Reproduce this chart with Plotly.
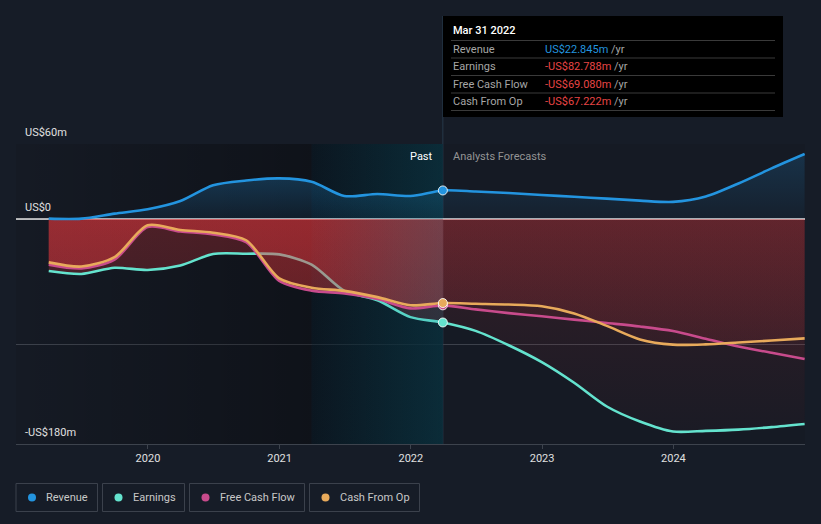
import plotly.graph_objects as go

# ---------------- data ----------------
past_dates = ["2019-03-31", "2019-06-30", "2019-09-30", "2019-12-31", "2020-03-31", "2020-06-30",
              "2020-09-30", "2020-12-31", "2021-03-31", "2021-06-30", "2021-09-30", "2021-12-31",
              "2022-03-31"]
fcst_dates = ["2022-03-31", "2022-06-30", "2022-09-30", "2022-12-31", "2023-03-31", "2023-06-30",
              "2023-09-30", "2023-12-31", "2024-03-31", "2024-06-30", "2024-09-30", "2024-12-31"]

revenue_past = [0.3, 0.3, 4.3, 7.8, 14.4, 27.0, 30.8, 32.5, 29.8, 18.4, 20.0, 18.4, 22.845]
revenue_fcst = [22.845, 22.0, 20.8, 19.2, 17.8, 16.3, 14.7, 13.7, 18.0, 28.4, 40.5, 52.0]
earnings_past = [-41.6, -44.0, -39.0, -40.8, -37.2, -28.0, -27.8, -28.3, -36.5, -57.5, -65.0, -78.5, -82.788]
earnings_fcst = [-82.788, -89.5, -101.0, -114.5, -131.0, -150.0, -162.0, -170.0, -169.5, -168.5, -166.5, -164.0]
fcf_past = [-36.5, -39.5, -32.5, -6.5, -10.0, -12.3, -18.5, -49.5, -57.3, -59.5, -64.0, -71.5, -69.08]
fcf_fcst = [-69.08, -72.3, -75.3, -77.8, -80.5, -83.2, -86.0, -89.6, -95.8, -102.0, -107.0, -112.0]
cfo_past = [-34.7, -38.0, -30.5, -5.0, -8.8, -11.0, -17.0, -47.5, -55.0, -57.5, -62.5, -69.0, -67.222]
cfo_fcst = [-67.222, -67.8, -68.4, -69.8, -75.5, -85.5, -96.3, -100.5, -100.3, -98.8, -97.2, -95.5]

series_names = ["Revenue", "Earnings", "Free Cash Flow", "Cash From Op"]
series_colors = ["#2394df", "#64e3ce", "#c84b8c", "#e8aa5b"]

tick_dates = ["2020-01-01", "2021-01-01", "2022-01-01", "2023-01-01", "2024-01-01"]
tick_text = ["2020", "2021", "2022", "2023", "2024"]
y_ticks = [60, 0, -100, -180]
y_labels = ["US$60m", "US$0", "", "-US$180m"]

tooltip_title = "Mar 31 2022"
tooltip_labels = ["Revenue", "Earnings", "Free Cash Flow", "Cash From Op"]
tooltip_values = ["US$22.845m", "-US$82.788m", "-US$69.080m", "-US$67.222m"]
tooltip_value_colors = ["#2394df", "#e84545", "#e84545", "#e84545"]

X0, X1 = "2018-12-30", "2025-01-01"
Y0, Y1 = -180, 60
HIGHLIGHT_START = "2021-03-31"
NOW = "2022-03-31"
FONT = "Roboto"
PAPER_BG = "#161c27"

W, H = 821, 524
ML, MR, MT, MB = 16, 16, 144, 80
PW, PH = W - ML - MR, H - MT - MB


def px_x(px):
    return (px - ML) / PW


def px_y(py):
    return (H - MB - py) / PH


fig = go.Figure()


def band(x0, x1, scale):
    fig.add_trace(go.Scatter(x=[x0, x1, x1, x0, x0], y=[Y0, Y0, Y1, Y1, Y0], mode="lines",
                             line=dict(width=0), fill="toself",
                             fillgradient=dict(type="horizontal", colorscale=scale),
                             hoverinfo="skip", showlegend=False))


# background bands (under everything)
band(X0, HIGHLIGHT_START, [[0, "rgba(0,0,0,0.0)"], [1, "rgba(0,0,0,0.3)"]])
band(HIGHLIGHT_START, NOW, [[0, "rgba(0,18,28,0.45)"], [1, "rgba(0,8,18,0.8)"]])

# zero line
fig.add_trace(go.Scatter(x=[X0, X1], y=[0, 0], mode="lines",
                         line=dict(color="rgba(238,238,238,0.95)", width=1.5),
                         hoverinfo="skip", showlegend=False))

SPL = dict(shape="spline", smoothing=0.8)


def area(x, y, scale, start, stop):
    fig.add_trace(go.Scatter(x=x, y=y, mode="lines", line=dict(width=0, **SPL), fill="tozeroy",
                             fillgradient=dict(type="vertical", colorscale=scale, start=start, stop=stop),
                             hoverinfo="skip", showlegend=False))


def line(x, y, color):
    fig.add_trace(go.Scatter(x=x, y=y, mode="lines", line=dict(color=color, width=2.6, **SPL),
                             hoverinfo="skip", showlegend=False))


all_dates = past_dates + fcst_dates[1:]
rev_all = revenue_past + revenue_fcst[1:]
earn_all = earnings_past + earnings_fcst[1:]
fcf_all = fcf_past + fcf_fcst[1:]
cfo_all = cfo_past + cfo_fcst[1:]

RED_PAST = [[0, "rgba(230,55,60,0.12)"], [1, "rgba(230,55,60,0.28)"]]
RED_FCST = [[0, "rgba(230,55,60,0.02)"], [1, "rgba(230,55,60,0.14)"]]

area(past_dates, revenue_past, [[0, "rgba(35,148,223,0.08)"], [1, "rgba(35,148,223,0.40)"]], 0, 60)
area(fcst_dates, revenue_fcst, [[0, "rgba(35,148,223,0.05)"], [1, "rgba(35,148,223,0.22)"]], 0, 60)

area(past_dates, earnings_past, RED_PAST, -180, 0)
area(fcst_dates, earnings_fcst, RED_FCST, -180, 0)
line(all_dates, earn_all, series_colors[1])

area(past_dates, fcf_past, RED_PAST, -180, 0)
area(fcst_dates, fcf_fcst, RED_FCST, -180, 0)
area(past_dates, cfo_past, RED_PAST, -180, 0)
area(fcst_dates, cfo_fcst, RED_FCST, -180, 0)

# light teal wash over the last-year highlight (above the areas, below the lines)
band(HIGHLIGHT_START, NOW, [[0, "rgba(30,140,160,0.0)"], [1, "rgba(30,140,160,0.25)"]])

line(all_dates, fcf_all, series_colors[2])
line(all_dates, cfo_all, series_colors[3])
line(all_dates, rev_all, series_colors[0])

for vals, col in [(earnings_past, series_colors[1]), (fcf_past, series_colors[2]),
                  (cfo_past, series_colors[3]), (revenue_past, series_colors[0])]:
    fig.add_trace(go.Scatter(x=[past_dates[-1]], y=[vals[-1]], mode="markers",
                             marker=dict(size=9, color=col, line=dict(color="rgba(255,255,255,0.85)", width=1)),
                             hoverinfo="skip", showlegend=False))

shapes = []
annotations = []

shapes.append(dict(type="line", xref="x", yref="paper", x0=NOW, x1=NOW, y0=0, y1=px_y(16),
                   line=dict(color="#27394a", width=1), layer="below"))

for v, t in zip(y_ticks, y_labels):
    if t:
        annotations.append(dict(xref="paper", x=0, xanchor="left", xshift=7, yref="y", y=v,
                                yanchor="middle", yshift=12, text=t, showarrow=False,
                                font=dict(family=FONT, size=11, color="#e0e0e0")))

annotations.append(dict(xref="x", x=NOW, xanchor="right", xshift=-8, yref="paper", y=px_y(156),
                        yanchor="middle", text="Past", showarrow=False,
                        font=dict(family=FONT, size=11, color="#ffffff")))
annotations.append(dict(xref="x", x=NOW, xanchor="left", xshift=8, yref="paper", y=px_y(156),
                        yanchor="middle", text="Analysts Forecasts", showarrow=False,
                        font=dict(family=FONT, size=11, color="#949494")))

shapes.append(dict(type="rect", xref="paper", yref="paper", x0=px_x(443), x1=px_x(783),
                   y0=px_y(117), y1=px_y(16), fillcolor="#000000", line=dict(width=0), layer="above"))
annotations.append(dict(xref="paper", yref="paper", x=px_x(451), y=px_y(31), xanchor="left",
                        yanchor="middle", text=tooltip_title, showarrow=False,
                        font=dict(family=FONT, size=11, color="#ffffff", weight=500)))
row_y = [49, 66.5, 84, 101.5]
sep_y = [40.5, 58, 75.5, 93, 110.5]
for sy in sep_y:
    shapes.append(dict(type="line", xref="paper", yref="paper", x0=px_x(451), x1=px_x(775),
                       y0=px_y(sy), y1=px_y(sy), line=dict(color="#3a3a3a", width=1), layer="above"))
for ry, lab, val, vc in zip(row_y, tooltip_labels, tooltip_values, tooltip_value_colors):
    annotations.append(dict(xref="paper", yref="paper", x=px_x(451), y=px_y(ry), xanchor="left",
                            yanchor="middle", text=lab, showarrow=False,
                            font=dict(family=FONT, size=11, color="#a6a6a6")))
    annotations.append(dict(xref="paper", yref="paper", x=px_x(543), y=px_y(ry), xanchor="left",
                            yanchor="middle", text=f"<span style='color:{vc}'>{val}</span> /yr",
                            showarrow=False, font=dict(family=FONT, size=11, color="#a6a6a6")))

leg_boxes = [(16, 97.5), (102.5, 184.5), (189.5, 304.5), (309.5, 419.5)]
for (bx0, bx1), name, col in zip(leg_boxes, series_names, series_colors):
    shapes.append(dict(type="rect", xref="paper", yref="paper", x0=px_x(bx0), x1=px_x(bx1),
                       y0=px_y(511.5), y1=px_y(483.5), fillcolor="rgba(0,0,0,0)",
                       line=dict(color="#3b414c", width=1), layer="above"))
    shapes.append(dict(type="circle", xref="paper", yref="paper", xsizemode="pixel", ysizemode="pixel",
                       xanchor=px_x(bx0 + 16), yanchor=px_y(497.5), x0=-4, x1=4, y0=-4, y1=4,
                       fillcolor=col, line=dict(width=0), layer="above"))
    annotations.append(dict(xref="paper", yref="paper", x=px_x(bx0 + 28), y=px_y(497.5),
                            xanchor="left", yanchor="middle", text=name, showarrow=False,
                            font=dict(family=FONT, size=11, color="#c8c8c8")))

fig.update_layout(
    width=W, height=H,
    margin=dict(l=ML, r=MR, t=MT, b=MB, pad=0),
    paper_bgcolor=PAPER_BG,
    plot_bgcolor="#151a24",
    showlegend=False,
    hovermode=False,
    font=dict(family=FONT, size=11, color="#e0e0e0"),
    shapes=shapes,
    annotations=annotations,
    xaxis=dict(type="date", range=[X0, X1], tickvals=tick_dates, ticktext=tick_text,
               ticks="outside", ticklen=4, tickcolor="#3d434d", showline=True, linecolor="#3d434d",
               linewidth=1, showgrid=False, zeroline=False,
               tickfont=dict(family=FONT, size=11, color="#e0e0e0")),
    yaxis=dict(range=[Y0, Y1], tickvals=y_ticks, showticklabels=False, ticks="",
               showgrid=True, gridcolor="#3c414b", gridwidth=1, zeroline=False, showline=False),
)

fig.write_html(
    "out.html",
    config={"displayModeBar": False},
    post_script=f"document.body.style.margin='0';document.body.style.overflow='hidden';"
                f"document.body.style.background='{PAPER_BG}';",
)
